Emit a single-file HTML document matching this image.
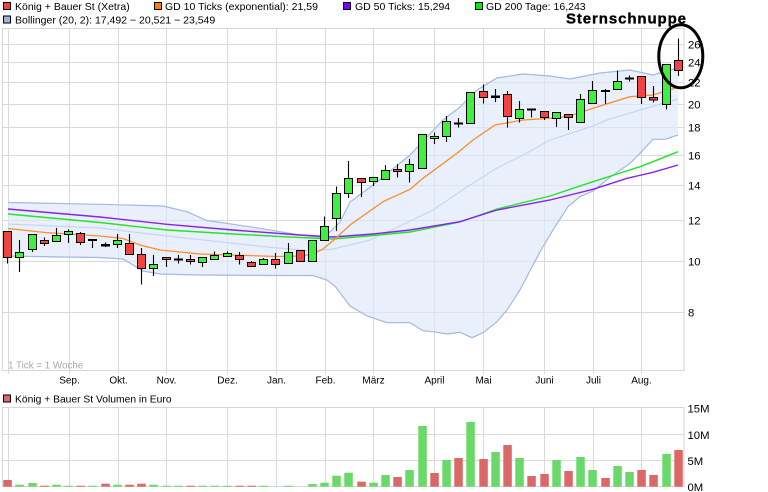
<!DOCTYPE html>
<html><head><meta charset="utf-8"><style>
html,body{margin:0;padding:0;background:#fff;}
svg{display:block;font-family:"Liberation Sans",Arial,sans-serif;}
.g{stroke:#dadada;stroke-width:1;}
.w{stroke:#000;stroke-width:1.1;}
.G{fill:#3ff03f;stroke:#000;stroke-width:1;}
.R{fill:#f24343;stroke:#000;stroke-width:1;}
.vg{fill:#6ad96a;}
.vr{fill:#db6868;}
.ax{font-size:11.3px;fill:#000;}
.mx{font-size:10px;fill:#000;text-anchor:middle;}
.lg{font-size:10.5px;fill:#000;}
</style></head><body>
<svg width="768" height="492" viewBox="0 0 768 492" xmlns="http://www.w3.org/2000/svg">
<rect width="768" height="492" fill="#fff"/>

<!-- legend -->
<rect x="3.5" y="2.5" width="7" height="7" fill="#f04040" stroke="#000"/>
<text class="lg" x="15" y="10">König + Bauer St (Xetra)</text>
<rect x="154.5" y="2.5" width="7" height="7" fill="#ff8000" stroke="#000"/>
<text class="lg" x="165" y="10">GD 10 Ticks (exponential): 21,59</text>
<rect x="343.5" y="2.5" width="7" height="7" fill="#8000ff" stroke="#000"/>
<text class="lg" x="355" y="10">GD 50 Ticks: 15,294</text>
<rect x="475.5" y="2.5" width="7" height="7" fill="#00ee00" stroke="#000"/>
<text class="lg" x="486" y="10">GD 200 Tage: 16,243</text>
<rect x="3.5" y="16" width="7" height="7" fill="#a0b4dc" stroke="#000"/>
<text class="lg" x="15" y="23.3">Bollinger (20, 2): 17,492 − 20,521 − 23,549</text>

<text x="566" y="23.3" font-size="15px" font-weight="bold" letter-spacing="0.9" fill="#000" stroke="#000" stroke-width="0.35">Sternschnuppe</text>

<!-- main grid -->
<g class="g">
<line x1="2.5" y1="44.5" x2="684" y2="44.5"/>
<line x1="2.5" y1="62.5" x2="684" y2="62.5"/>
<line x1="2.5" y1="82.5" x2="684" y2="82.5"/>
<line x1="2.5" y1="104.5" x2="684" y2="104.5"/>
<line x1="2.5" y1="127.5" x2="684" y2="127.5"/>
<line x1="2.5" y1="155.5" x2="684" y2="155.5"/>
<line x1="2.5" y1="185.5" x2="684" y2="185.5"/>
<line x1="2.5" y1="220.5" x2="684" y2="220.5"/>
<line x1="2.5" y1="261.5" x2="684" y2="261.5"/>
<line x1="2.5" y1="312.5" x2="684" y2="312.5"/>
<line x1="8.5" y1="28.5" x2="8.5" y2="374"/>
<line x1="69.5" y1="28.5" x2="69.5" y2="374"/>
<line x1="118.5" y1="28.5" x2="118.5" y2="374"/>
<line x1="166.5" y1="28.5" x2="166.5" y2="374"/>
<line x1="227.5" y1="28.5" x2="227.5" y2="374"/>
<line x1="276.5" y1="28.5" x2="276.5" y2="374"/>
<line x1="325.5" y1="28.5" x2="325.5" y2="374"/>
<line x1="373.5" y1="28.5" x2="373.5" y2="374"/>
<line x1="434.5" y1="28.5" x2="434.5" y2="374"/>
<line x1="483.5" y1="28.5" x2="483.5" y2="374"/>
<line x1="544.5" y1="28.5" x2="544.5" y2="374"/>
<line x1="593.5" y1="28.5" x2="593.5" y2="374"/>
<line x1="641.5" y1="28.5" x2="641.5" y2="374"/>
</g>
<rect x="2.5" y="28.5" width="681.5" height="342" fill="none" stroke="#d6d6d6"/>

<!-- bollinger -->
<polygon fill="#dfe8f9" fill-opacity="0.65" points="8,202.5 100,204.3 163,206 187,211.7 207,220.5 233,224.3 260,228.3 300,235 320,237 330,232 340,222 350,202 373,185 410,155 443,120 460,107 477,90 497,78 523,74 550,76 570,79 600,73 630,70 653,75 678,68 678,135 665,139.3 653,139.3 640,153.3 630,163.3 610,177.3 593,191 580,196.7 568,206.7 555,226.7 540,251.7 520,290 507,310 497,321.7 483,332.7 472,337.7 460,332.3 447,334 433,331.7 423,330.7 410,322.7 387,322.7 367,316 350,306 335,286 327,280 313,275.5 277,275.5 200,275 160,274 143,271 123,259 100,257.5 60,257 8,256"/>
<polyline fill="none" stroke="#a3b8e2" stroke-width="1.2" points="8,202.5 100,204.3 163,206 187,211.7 207,220.5 233,224.3 260,228.3 300,235 320,237 330,232 340,222 350,202 373,185 410,155 443,120 460,107 477,90 497,78 523,74 550,76 570,79 600,73 630,70 653,75 678,68"/>
<polyline fill="none" stroke="#a3b8e2" stroke-width="1.2" points="8,256 60,257 100,257.5 123,259 143,271 160,274 200,275 277,275.5 313,275.5 327,280 335,286 350,306 367,316 387,322.7 410,322.7 423,330.7 433,331.7 447,334 460,332.3 472,337.7 483,332.7 497,321.7 507,310 520,290 540,251.7 555,226.7 568,206.7 580,196.7 593,191 610,177.3 630,163.3 640,153.3 653,139.3 665,139.3 678,135"/>
<polyline fill="none" stroke="#c4d6f5" stroke-width="1.2" points="8,224 100,228 167,236 267,247 313,251 333,249 370,240 400,226 433,210 467,187 497,168 527,153 550,140 593,126 607,120 640,110 678,99"/>

<!-- moving averages -->
<polyline fill="none" stroke="#22e622" stroke-width="1.4" points="8,214 100,222.5 167,230 233,234 283,236.7 333,239 373,235.5 410,232 460,222 497,209 550,196 593,181.7 640,166.7 653,161.7 678,151.7"/>
<polyline fill="none" stroke="#8a22ee" stroke-width="1.4" points="8,209 100,217 167,224.3 233,230 300,235 333,237 373,234 410,230 460,221.7 497,210 550,200 570,195 593,189.3 627,178.3 653,172.3 678,165"/>
<polyline fill="none" stroke="#ff8c2e" stroke-width="1.3" points="8,228.5 45,232.5 100,236 123,238.5 140,245 160,250 200,254 277,256.5 300,256 313,254 323,249 335,239 350,225 383,201.7 410,189.3 423,178.3 457,153.3 473,140 495,125 523,120 550,118.3 568,116.5 593,108.3 630,96.7 653,95 678,87.3"/>

<!-- candles -->
<g>
<line class="w" x1="7.5" y1="231" x2="7.5" y2="263.5"/><rect class="R" x="3.5" y="231.5" width="8" height="26"/>
<line class="w" x1="19.5" y1="240" x2="19.5" y2="272"/><rect class="G" x="15.5" y="252.5" width="8" height="5"/>
<line class="w" x1="32.5" y1="234" x2="32.5" y2="252"/><rect class="G" x="28.5" y="234.5" width="8" height="15"/>
<line class="w" x1="44.5" y1="237.5" x2="44.5" y2="246"/><rect class="R" x="40.5" y="240.5" width="8" height="3"/>
<line class="w" x1="56.5" y1="228" x2="56.5" y2="241.5"/><rect class="G" x="52.5" y="235.5" width="8" height="6"/>
<line class="w" x1="68.5" y1="229.5" x2="68.5" y2="243"/><rect class="G" x="64.5" y="231.5" width="8" height="3"/>
<line class="w" x1="80.5" y1="232" x2="80.5" y2="245"/><rect class="R" x="76.5" y="233.5" width="8" height="9"/>
<line class="w" x1="92.5" y1="240" x2="92.5" y2="248"/><rect x="88" y="239" width="9" height="2" fill="#000"/>
<line class="w" x1="105.5" y1="242.5" x2="105.5" y2="247"/><rect x="101" y="244" width="9" height="2.5" fill="#000"/>
<line class="w" x1="117.5" y1="234" x2="117.5" y2="248"/><rect class="G" x="113.5" y="240.5" width="8" height="4"/>
<line class="w" x1="129.5" y1="234" x2="129.5" y2="254.5"/><rect class="R" x="125.5" y="243.5" width="8" height="11"/>
<line class="w" x1="141.5" y1="248" x2="141.5" y2="284.5"/><rect class="R" x="137.5" y="254.5" width="8" height="14"/>
<line class="w" x1="153.5" y1="255" x2="153.5" y2="276"/><rect class="G" x="149.5" y="264.5" width="8" height="4"/>
<line class="w" x1="166.5" y1="257.5" x2="166.5" y2="267"/><rect class="R" x="162.5" y="257.5" width="8" height="2"/>
<line class="w" x1="178.5" y1="255" x2="178.5" y2="263.5"/><rect x="174" y="258.5" width="9" height="2" fill="#000"/>
<line class="w" x1="190.5" y1="255" x2="190.5" y2="264.5"/><rect class="R" x="186.5" y="259.5" width="8" height="2"/>
<line class="w" x1="202.5" y1="257.5" x2="202.5" y2="267"/><rect class="G" x="198.5" y="257.5" width="8" height="5"/>
<line class="w" x1="214.5" y1="251.5" x2="214.5" y2="260"/><rect class="G" x="210.5" y="255.5" width="8" height="4"/>
<line class="w" x1="227.5" y1="251.5" x2="227.5" y2="256.5"/><rect class="G" x="223.5" y="253.5" width="8" height="3"/>
<line class="w" x1="239.5" y1="252" x2="239.5" y2="264.5"/><rect class="R" x="235.5" y="255.5" width="8" height="4"/>
<line class="w" x1="251.5" y1="261" x2="251.5" y2="266.5"/><rect class="R" x="247.5" y="262.5" width="8" height="4"/>
<line class="w" x1="263.5" y1="258" x2="263.5" y2="264.5"/><rect class="G" x="259.5" y="259.5" width="8" height="5"/>
<line class="w" x1="275.5" y1="253" x2="275.5" y2="268.5"/><rect class="R" x="271.5" y="259.5" width="8" height="5"/>
<line class="w" x1="288.5" y1="243" x2="288.5" y2="263.5"/><rect class="G" x="284.5" y="252.5" width="8" height="11"/>
<line class="w" x1="300.5" y1="250.5" x2="300.5" y2="262"/><rect class="R" x="296.5" y="250.5" width="8" height="11"/>
<line class="w" x1="312.5" y1="240.5" x2="312.5" y2="261.5"/><rect class="G" x="308.5" y="240.5" width="8" height="21"/>
<line class="w" x1="324.5" y1="216.5" x2="324.5" y2="241"/><rect class="G" x="320.5" y="226.5" width="8" height="14"/>
<line class="w" x1="336.5" y1="186.5" x2="336.5" y2="231"/><rect class="G" x="332.5" y="193.5" width="8" height="25"/>
<line class="w" x1="348.5" y1="161" x2="348.5" y2="198"/><rect class="G" x="344.5" y="178.5" width="8" height="15"/>
<line class="w" x1="361.5" y1="178.5" x2="361.5" y2="197"/><rect class="R" x="357.5" y="178.5" width="8" height="4"/>
<line class="w" x1="373.5" y1="177.5" x2="373.5" y2="186"/><rect class="G" x="369.5" y="177.5" width="8" height="4"/>
<line class="w" x1="385.5" y1="165" x2="385.5" y2="179.5"/><rect class="G" x="381.5" y="170.5" width="8" height="9"/>
<line class="w" x1="397.5" y1="164" x2="397.5" y2="177.5"/><rect class="R" x="393.5" y="169.5" width="8" height="2"/>
<line class="w" x1="409.5" y1="159" x2="409.5" y2="182.5"/><rect class="G" x="405.5" y="164.5" width="8" height="7"/>
<line class="w" x1="422.5" y1="134.5" x2="422.5" y2="169"/><rect class="G" x="418.5" y="134.5" width="8" height="34"/>
<line class="w" x1="434.5" y1="132.5" x2="434.5" y2="144"/><rect class="G" x="430.5" y="136.5" width="8" height="2"/>
<line class="w" x1="446.5" y1="116" x2="446.5" y2="142"/><rect class="G" x="442.5" y="121.5" width="8" height="15"/>
<line class="w" x1="458.5" y1="118" x2="458.5" y2="127.5"/><rect x="454" y="122.5" width="9" height="2" fill="#000"/>
<line class="w" x1="470.5" y1="92.5" x2="470.5" y2="124"/><rect class="G" x="466.5" y="92.5" width="8" height="31"/>
<line class="w" x1="483.5" y1="84.5" x2="483.5" y2="103.5"/><rect class="R" x="479.5" y="91.5" width="8" height="6"/>
<line class="w" x1="495.5" y1="89" x2="495.5" y2="102"/><rect x="491" y="95.5" width="9" height="2.5" fill="#000"/>
<line class="w" x1="507.5" y1="91" x2="507.5" y2="127.5"/><rect class="R" x="503.5" y="94.5" width="8" height="22"/>
<line class="w" x1="519.5" y1="101" x2="519.5" y2="122.5"/><rect class="G" x="515.5" y="109.5" width="8" height="9"/>
<line class="w" x1="531.5" y1="109" x2="531.5" y2="117.5"/><rect x="527" y="108.5" width="9" height="2" fill="#000"/>
<line class="w" x1="544.5" y1="111.5" x2="544.5" y2="120"/><rect class="R" x="540.5" y="111.5" width="8" height="6"/>
<line class="w" x1="556.5" y1="112.5" x2="556.5" y2="127"/><rect class="G" x="552.5" y="112.5" width="8" height="6"/>
<line class="w" x1="568.5" y1="114.5" x2="568.5" y2="130"/><rect class="R" x="564.5" y="114.5" width="8" height="3"/>
<line class="w" x1="580.5" y1="94" x2="580.5" y2="122.5"/><rect class="G" x="576.5" y="99.5" width="8" height="23"/>
<line class="w" x1="592.5" y1="81" x2="592.5" y2="104"/><rect class="G" x="588.5" y="90.5" width="8" height="13"/>
<line class="w" x1="605.5" y1="89" x2="605.5" y2="104"/><rect x="601" y="90" width="9" height="2" fill="#000"/>
<line class="w" x1="617.5" y1="70.5" x2="617.5" y2="89.5"/><rect class="G" x="613.5" y="81.5" width="8" height="8"/>
<line class="w" x1="629.5" y1="75.5" x2="629.5" y2="81.5"/><rect x="625" y="77.5" width="9" height="2" fill="#000"/>
<line class="w" x1="641.5" y1="76.5" x2="641.5" y2="104"/><rect class="R" x="637.5" y="76.5" width="8" height="21"/>
<line class="w" x1="653.5" y1="86" x2="653.5" y2="102.5"/><rect class="R" x="649.5" y="97.5" width="8" height="2.5"/>
<line class="w" x1="666.5" y1="64.5" x2="666.5" y2="109.5"/><rect class="G" x="662.5" y="64.5" width="8" height="40"/>
<line class="w" x1="678.5" y1="38.5" x2="678.5" y2="76"/><rect class="R" x="674.5" y="60.5" width="8" height="10"/>
</g>

<ellipse cx="680.8" cy="56.3" rx="22" ry="31.5" fill="none" stroke="#000" stroke-width="3"/>

<!-- right axis labels -->
<g class="ax">
<text x="688" y="48.5">26</text>
<text x="688" y="66.5">24</text>
<text x="688" y="86.5">22</text>
<text x="688" y="108.5">20</text>
<text x="688" y="131.5">18</text>
<text x="688" y="159.5">16</text>
<text x="688" y="189.5">14</text>
<text x="688" y="224.5">12</text>
<text x="688" y="265.5">10</text>
<text x="688" y="316.5">8</text>
</g>

<text x="8" y="368.5" font-size="9.8px" fill="#a8a8a8">1 Tick = 1 Woche</text>

<g class="mx">
<text x="69.5" y="383.5">Sep.</text>
<text x="118.5" y="383.5">Okt.</text>
<text x="166.5" y="383.5">Nov.</text>
<text x="227.5" y="383.5">Dez.</text>
<text x="276.5" y="383.5">Jan.</text>
<text x="325.5" y="383.5">Feb.</text>
<text x="373.5" y="383.5">März</text>
<text x="434.5" y="383.5">April</text>
<text x="483.5" y="383.5">Mai</text>
<text x="544.5" y="383.5">Juni</text>
<text x="593.5" y="383.5">Juli</text>
<text x="641.5" y="383.5">Aug.</text>
</g>

<!-- volume panel -->
<rect x="3.5" y="395" width="7" height="7" fill="#dc6a6a" stroke="#000"/>
<text x="15" y="402.3" font-size="10.3px" fill="#000">König + Bauer St Volumen in Euro</text>
<g class="g">
<line x1="2.5" y1="434.5" x2="684" y2="434.5"/>
<line x1="2.5" y1="460.5" x2="684" y2="460.5"/>
<line x1="8.5" y1="407.5" x2="8.5" y2="486.5"/>
<line x1="69.5" y1="407.5" x2="69.5" y2="486.5"/>
<line x1="118.5" y1="407.5" x2="118.5" y2="486.5"/>
<line x1="166.5" y1="407.5" x2="166.5" y2="486.5"/>
<line x1="227.5" y1="407.5" x2="227.5" y2="486.5"/>
<line x1="276.5" y1="407.5" x2="276.5" y2="486.5"/>
<line x1="325.5" y1="407.5" x2="325.5" y2="486.5"/>
<line x1="373.5" y1="407.5" x2="373.5" y2="486.5"/>
<line x1="434.5" y1="407.5" x2="434.5" y2="486.5"/>
<line x1="483.5" y1="407.5" x2="483.5" y2="486.5"/>
<line x1="544.5" y1="407.5" x2="544.5" y2="486.5"/>
<line x1="593.5" y1="407.5" x2="593.5" y2="486.5"/>
<line x1="641.5" y1="407.5" x2="641.5" y2="486.5"/>
</g>
<rect x="2.5" y="407.5" width="681.5" height="79" fill="none" stroke="#d6d6d6"/>

<g>
<rect class="vr" x="3.3" y="480" width="8.5" height="6.7"/>
<rect class="vg" x="15.3" y="484.7" width="8.5" height="2"/>
<rect class="vg" x="28.3" y="483" width="8.5" height="3.7"/>
<rect class="vr" x="40.3" y="485.7" width="8.5" height="1"/>
<rect class="vg" x="52.3" y="484.7" width="8.5" height="2"/>
<rect class="vg" x="64.3" y="485.7" width="8.5" height="1"/>
<rect class="vr" x="76.3" y="485.7" width="8.5" height="1"/>
<rect class="vg" x="88.3" y="485.7" width="8.5" height="1"/>
<rect class="vr" x="101.3" y="483.7" width="8.5" height="3"/>
<rect class="vg" x="113.3" y="484.7" width="8.5" height="2"/>
<rect class="vr" x="125.3" y="484.7" width="8.5" height="2"/>
<rect class="vr" x="137.3" y="483.7" width="8.5" height="3"/>
<rect class="vg" x="149.3" y="484.7" width="8.5" height="2"/>
<rect class="vg" x="162.3" y="485.7" width="8.5" height="1"/>
<rect class="vg" x="174.3" y="485.7" width="8.5" height="1"/>
<rect class="vr" x="186.3" y="485.7" width="8.5" height="1"/>
<rect class="vg" x="198.3" y="485.7" width="8.5" height="1"/>
<rect class="vg" x="210.3" y="485.7" width="8.5" height="1"/>
<rect class="vg" x="223.3" y="485.7" width="8.5" height="1"/>
<rect class="vr" x="235.3" y="485.7" width="8.5" height="1"/>
<rect class="vr" x="247.3" y="485.7" width="8.5" height="1"/>
<rect class="vg" x="259.3" y="485.7" width="8.5" height="1"/>
<rect class="vg" x="284.3" y="485.7" width="8.5" height="1"/>
<rect class="vg" x="308.3" y="484" width="8.5" height="2.7"/>
<rect class="vg" x="320.3" y="482.7" width="8.5" height="4"/>
<rect class="vg" x="332.3" y="475.7" width="8.5" height="11"/>
<rect class="vg" x="344.3" y="472.7" width="8.5" height="14"/>
<rect class="vr" x="357.3" y="481.7" width="8.5" height="5"/>
<rect class="vg" x="369.3" y="482.7" width="8.5" height="4"/>
<rect class="vg" x="381.3" y="475" width="8.5" height="11.7"/>
<rect class="vr" x="393.3" y="477" width="8.5" height="9.7"/>
<rect class="vg" x="405.3" y="470" width="8.5" height="16.7"/>
<rect class="vg" x="418.3" y="426" width="8.5" height="60.7"/>
<rect class="vr" x="430.3" y="473" width="8.5" height="13.7"/>
<rect class="vg" x="442.3" y="460" width="8.5" height="26.7"/>
<rect class="vr" x="454.3" y="458" width="8.5" height="28.7"/>
<rect class="vg" x="466.3" y="422" width="8.5" height="64.7"/>
<rect class="vr" x="479.3" y="459" width="8.5" height="27.7"/>
<rect class="vg" x="491.3" y="452" width="8.5" height="34.7"/>
<rect class="vr" x="503.3" y="445" width="8.5" height="41.7"/>
<rect class="vg" x="515.3" y="458" width="8.5" height="28.7"/>
<rect class="vr" x="527.3" y="476" width="8.5" height="10.7"/>
<rect class="vr" x="540.3" y="474" width="8.5" height="12.7"/>
<rect class="vg" x="552.3" y="460" width="8.5" height="26.7"/>
<rect class="vr" x="564.3" y="471" width="8.5" height="15.7"/>
<rect class="vg" x="576.3" y="457" width="8.5" height="29.7"/>
<rect class="vg" x="588.3" y="470" width="8.5" height="16.7"/>
<rect class="vr" x="601.3" y="478" width="8.5" height="8.7"/>
<rect class="vg" x="613.3" y="466" width="8.5" height="20.7"/>
<rect class="vg" x="625.3" y="472" width="8.5" height="14.7"/>
<rect class="vr" x="637.3" y="470" width="8.5" height="16.7"/>
<rect class="vr" x="649.3" y="475" width="8.5" height="11.7"/>
<rect class="vg" x="662.3" y="454" width="8.5" height="32.7"/>
<rect class="vr" x="674.3" y="450" width="8.5" height="36.7"/>
</g>

<g class="ax">
<text x="687.5" y="412.3">15M</text>
<text x="687.5" y="438.8">10M</text>
<text x="687.5" y="465">5M</text>
<text x="687.5" y="491.2">0M</text>
</g>
</svg>
</body></html>
